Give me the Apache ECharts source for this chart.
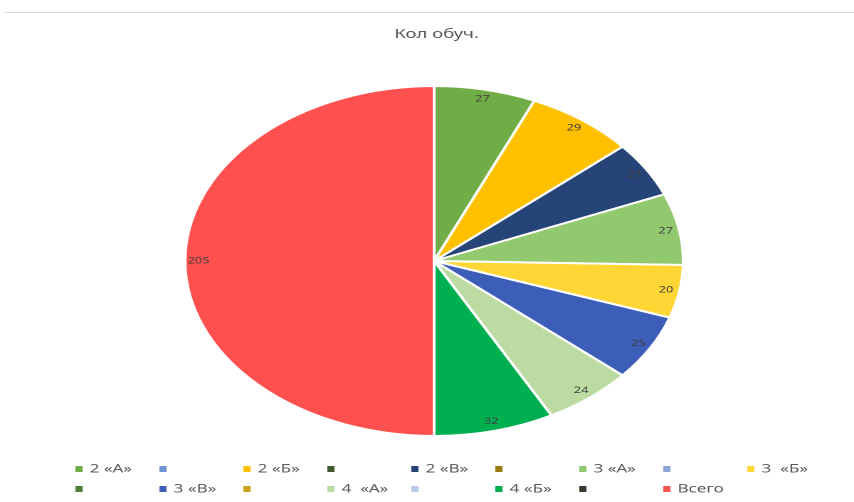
<!DOCTYPE html>
<html><head><meta charset="utf-8">
<script src="https://cdn.jsdelivr.net/npm/echarts@6/dist/echarts.min.js"></script>
<style>
html,body{margin:0;padding:0;background:#fff;overflow:hidden}
#wrap{width:854px;height:502px;overflow:hidden;position:relative;background:#fff}
#chart{width:600px;height:502px;transform:scaleX(1.42333);transform-origin:0 0}
</style></head>
<body><div id="wrap"><div id="chart"></div></div>
<script>
const chartTitle = 'Кол обуч.';
const legendLabels = ['2 «А»','','2 «Б»','','2 «В»','','3 «А»','','3  «Б»','','3 «В»','','4  «А»','','4 «Б»','','Всего'];
const values = [27,0,29,0,21,0,27,0,20,0,25,0,24,0,32,0,205];
const colors = ['#70AD47','#7094D4','#FFC000','#3E5A2C','#264478','#9C7B14','#92C86E','#8CA5D8','#FFD633',
                '#4E7D3A','#3C5EB8','#C9A21A','#BBDBA2','#B8C8E8','#00B050','#3A3A30','#FF5050'];

const names = legendLabels.map((l, i) => l === '' ? 'blank' + i : l);
const labelOf = {};
names.forEach((n, i) => { labelOf[n] = legendLabels[i]; });

const pieData = names.map((n, i) => ({
  name: n, value: values[i],
  itemStyle: { color: colors[i], borderWidth: values[i] > 0 ? 2 : 0 }
}));
const labelData = names.map((n, i) => ({
  name: n, value: values[i],
  label: { show: values[i] > 0 }
}));

const chart = echarts.init(document.getElementById('chart'), null, { devicePixelRatio: 2 });
chart.setOption({
  backgroundColor: '#fff',
  animation: false,
  title: {
    text: chartTitle, left: 272, top: 23,
    textStyle: { fontFamily: 'Noto Sans, DejaVu Sans, sans-serif', fontSize: 13, fontWeight: 'normal', color: '#595959' }
  },
  graphic: [{
    type: 'line', shape: { x1: 3, y1: 12.5, x2: 600, y2: 12.5 },
    style: { stroke: '#d9d9d9', lineWidth: 1 }, silent: true
  }],
  legend: {
    data: names,
    left: 48, top: 456, width: 540,
    orient: 'horizontal',
    icon: 'rect', itemWidth: 5, itemHeight: 6, itemGap: 4,
    itemStyle: { borderWidth: 0 },
    formatter: n => labelOf[n],
    selectedMode: false,
    textStyle: { fontFamily: 'Noto Sans, DejaVu Sans, sans-serif', fontSize: 12, color: '#595959', width: 45, lineHeight: 16 }
  },
  series: [{
    type: 'pie', center: [305, 261], radius: [0, 175],
    startAngle: 90, clockwise: true, minAngle: 0,
    avoidLabelOverlap: false,
    itemStyle: { borderColor: '#fff', borderWidth: 2 },
    label: { show: false }, labelLine: { show: false },
    emphasis: { disabled: true },
    data: pieData
  }, {
    type: 'pie', center: [305, 261], radius: [150, 175],
    startAngle: 90, clockwise: true, minAngle: 0, silent: true,
    avoidLabelOverlap: false,
    itemStyle: { color: 'rgba(0,0,0,0)', borderWidth: 0 },
    label: { position: 'inside', fontSize: 9, color: '#404040', fontFamily: 'Noto Sans, DejaVu Sans, sans-serif', formatter: '{c}' },
    labelLine: { show: false },
    emphasis: { disabled: true },
    data: labelData
  }]
});
</script></body></html>
